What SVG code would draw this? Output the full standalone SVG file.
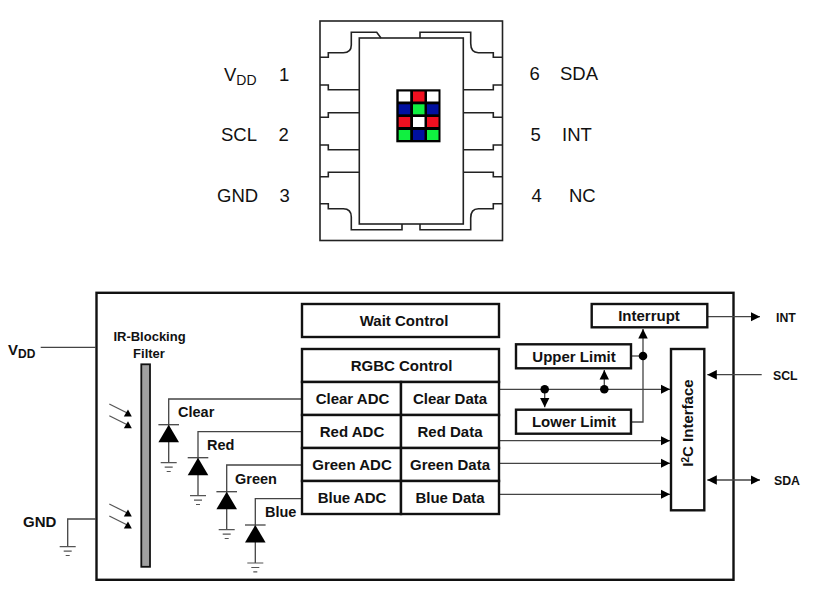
<svg xmlns="http://www.w3.org/2000/svg" width="816" height="613" viewBox="0 0 816 613">
<style>
text{font-family:"Liberation Sans",Arial,sans-serif;fill:#111}
.p{font-size:18.500px}
.b{font-size:15px;font-weight:bold;text-anchor:middle}
.l{font-size:15px;font-weight:bold}
.box{fill:#fff;stroke:#111;stroke-width:2.400}
.pk{fill:none;stroke:#222;stroke-width:1.600}
.w{fill:none;stroke:#444;stroke-width:1.300}
.g{fill:none;stroke:#555;stroke-width:1.200}
.h{fill:#000}
</style>
<defs>
<g id="gnd"><path class="g" d="M-8 0H8M-4 4.500H4M-2 8.800H2"/></g>
<g id="dio"><path class="h" d="M0 0L10.300 17.600H-10.300Z"/><path class="w" d="M-10.300 0H10.300"/></g>
<g id="ray"><path class="g" d="M0 0L19 9.500"/><path class="h" d="M14.500 12.500H22.500L18.700 5.500Z"/></g>
<marker id="a" viewBox="0 0 10 10" refX="10" refY="5" markerWidth="9.500" markerHeight="10" markerUnits="userSpaceOnUse" orient="auto-start-reverse"><path d="M0 0L10 5L0 10Z" fill="#000"/></marker>
</defs>
<g id="package">
<rect class="pk" x="320" y="21" width="182.500" height="219.500"/>
<rect class="pk" x="359.300" y="38" width="104" height="186"/>
<path class="pk" d="M320 57.300H328.300V52.700H343.300Q351.300 52.700 351.300 45V32.300H376.700L381 38"/>
<path class="pk" d="M420 38V32.300H470.700V43.300Q470.700 52.700 478.300 52.700H493.300V57.300H502.500"/>
<path class="pk" d="M320 85H328.300V89.700H359.300M320 117.300H328.300V112.700H359.300M320 145H328.300V149.700H359.300M320 176.700H328.300V172.300H359.300"/>
<path class="pk" d="M463.300 89.700H493.300V85H502.500M463.300 112.700H493.300V117.300H502.500M463.300 149.700H493.300V145H502.500M463.300 172.300H493.300V176.700H502.500"/>
<path class="pk" d="M320 203.700H328.300V208.700H343.300Q351.300 208.700 351.300 217V229.700H402V224"/>
<path class="pk" d="M420 224V229.700H470.700V218Q470.700 208.700 478.300 208.700H493.300V203.700H502.500"/>
<rect x="396.300" y="89.300" width="44.200" height="53" fill="#000"/>
<g>
<rect x="398.700" y="91.500" width="11.500" height="10" fill="#fff"/><rect x="413" y="91.500" width="11.500" height="10" fill="#f01020"/><rect x="427" y="91.500" width="11.500" height="10" fill="#fff"/>
<rect x="398.700" y="104.300" width="11.500" height="10" fill="#0010a0"/><rect x="413" y="104.300" width="11.500" height="10" fill="#10f040"/><rect x="427" y="104.300" width="11.500" height="10" fill="#0010a0"/>
<rect x="398.700" y="117" width="11.500" height="10" fill="#f01020"/><rect x="413" y="117" width="11.500" height="10" fill="#fff"/><rect x="427" y="117" width="11.500" height="10" fill="#f01020"/>
<rect x="398.700" y="130" width="11.500" height="10" fill="#10f040"/><rect x="413" y="130" width="11.500" height="10" fill="#0010a0"/><rect x="427" y="130" width="11.500" height="10" fill="#10f040"/>
</g>
</g>
<g id="pin-labels">
<text class="p" x="224" y="81">V<tspan font-size="14" dy="4">DD</tspan></text><text class="p" x="279" y="81">1</text>
<text class="p" x="221" y="141">SCL</text><text class="p" x="278.500" y="141">2</text>
<text class="p" x="217" y="202">GND</text><text class="p" x="279.500" y="202">3</text>
<text class="p" x="529.500" y="80">6</text><text class="p" x="560" y="80">SDA</text>
<text class="p" x="530.500" y="141">5</text><text class="p" x="562" y="141">INT</text>
<text class="p" x="531.500" y="202">4</text><text class="p" x="569" y="202">NC</text>
</g>
<g id="chip"><rect x="96.500" y="292.800" width="637" height="287" fill="#fff" stroke="#111" stroke-width="2.400"/></g>
<g id="connectors">
<path class="w" d="M40.700 347.300H96M96 519H67.700V546.700"/>
<path class="w" d="M302 399H168.700V424.700V462.700M302 431.700H198V457.700V495.700M302 465H226.700V491.700V529.700M302 498.700H255.300V525V563"/>
<path class="w" marker-end="url(#a)" d="M500 389.300H670"/>
<path class="w" marker-end="url(#a)" d="M500 440.700H670"/>
<path class="w" marker-end="url(#a)" d="M500 463.300H670"/>
<path class="w" marker-end="url(#a)" d="M500 494.300H670"/>
<path class="w" marker-end="url(#a)" d="M544.700 389.300V407.300"/>
<path class="w" marker-end="url(#a)" d="M604.300 389.300V370"/>
<path class="w" marker-end="url(#a)" d="M631 422H643V329"/>
<path class="w" d="M631 356H643"/>
<path class="w" marker-end="url(#a)" d="M707 316.700H760"/>
<path class="w" marker-end="url(#a)" d="M761.700 374.700H707.300"/>
<path class="w" marker-start="url(#a)" marker-end="url(#a)" d="M707.300 480H760"/>
<circle class="h" cx="544.700" cy="389.300" r="4.300"/><circle class="h" cx="604.300" cy="389.300" r="4.300"/><circle class="h" cx="643" cy="356" r="4.300"/>
</g>
<g id="vdd"><text class="l" x="8" y="355">V<tspan font-size="12" dy="3">DD</tspan></text></g>
<g id="gnd-in"><text class="l" x="23" y="527">GND</text><use href="#gnd" x="67.700" y="546.700"/></g>
<g id="filter"><rect x="141.300" y="364.300" width="8.700" height="202.500" fill="#a0a0a0" stroke="#111" stroke-width="1.800"/>
<text class="b" style="font-size:13px" x="149.500" y="341">IR-Blocking</text><text class="b" style="font-size:13px" x="149" y="358">Filter</text></g>
<g id="rays"><use href="#ray" x="109.300" y="404"/><use href="#ray" x="109.300" y="415.700"/><use href="#ray" x="109.300" y="504"/><use href="#ray" x="109.300" y="516"/></g>
<g id="clear-diode"><use href="#dio" x="168.700" y="424.700"/><use href="#gnd" x="168.700" y="462.700"/><text class="l" style="font-size:14.500px" x="178" y="417">Clear</text></g>
<g id="red-diode"><use href="#dio" x="198" y="457.700"/><use href="#gnd" x="198" y="495.700"/><text class="l" style="font-size:14.500px" x="207" y="450">Red</text></g>
<g id="green-diode"><use href="#dio" x="226.700" y="491.700"/><use href="#gnd" x="226.700" y="529.700"/><text class="l" style="font-size:14.500px" x="235" y="484">Green</text></g>
<g id="blue-diode"><use href="#dio" x="255.300" y="525"/><use href="#gnd" x="255.300" y="563"/><text class="l" style="font-size:14.500px" x="265" y="517">Blue</text></g>
<g id="wait"><rect class="box" x="302" y="304" width="197" height="33"/><text class="b" x="404" y="326">Wait Control</text></g>
<g id="rgbc"><rect class="box" x="302" y="349" width="197" height="33"/><text class="b" x="401.500" y="371">RGBC Control</text></g>
<g id="clear-adc"><rect class="box" x="302" y="382" width="99" height="33"/><text class="b" x="352.500" y="404">Clear ADC</text></g>
<g id="clear-data"><rect class="box" x="401" y="382" width="98" height="33"/><text class="b" x="450" y="404">Clear Data</text></g>
<g id="red-adc"><rect class="box" x="302" y="415" width="99" height="33"/><text class="b" x="352" y="437">Red ADC</text></g>
<g id="red-data"><rect class="box" x="401" y="415" width="98" height="33"/><text class="b" x="450" y="437">Red Data</text></g>
<g id="green-adc"><rect class="box" x="302" y="448" width="99" height="33"/><text class="b" x="352" y="470">Green ADC</text></g>
<g id="green-data"><rect class="box" x="401" y="448" width="98" height="33"/><text class="b" x="450" y="470">Green Data</text></g>
<g id="blue-adc"><rect class="box" x="302" y="481" width="99" height="33"/><text class="b" x="352" y="503">Blue ADC</text></g>
<g id="blue-data"><rect class="box" x="401" y="481" width="98" height="33"/><text class="b" x="450" y="503">Blue Data</text></g>
<g id="interrupt"><rect class="box" x="591.700" y="304" width="115.600" height="23.300"/><text class="b" x="649" y="321">Interrupt</text></g>
<g id="upper"><rect class="box" x="516" y="344.300" width="115" height="24"/><text class="b" x="574" y="362">Upper Limit</text></g>
<g id="lower"><rect class="box" x="516" y="409.700" width="115" height="24"/><text class="b" x="574" y="427">Lower Limit</text></g>
<g id="i2c"><rect class="box" x="671" y="349" width="33.300" height="161.300"/><text class="b" transform="translate(693 423) rotate(-90)">I<tspan font-size="10" dy="-4">2</tspan><tspan dy="4">C Interface</tspan></text></g>
<g id="out-labels"><text class="l" style="font-size:12.300px" x="776" y="322">INT</text><text class="l" style="font-size:12.300px" x="773" y="380">SCL</text><text class="l" style="font-size:12.300px" x="774" y="485">SDA</text></g>
</svg>
